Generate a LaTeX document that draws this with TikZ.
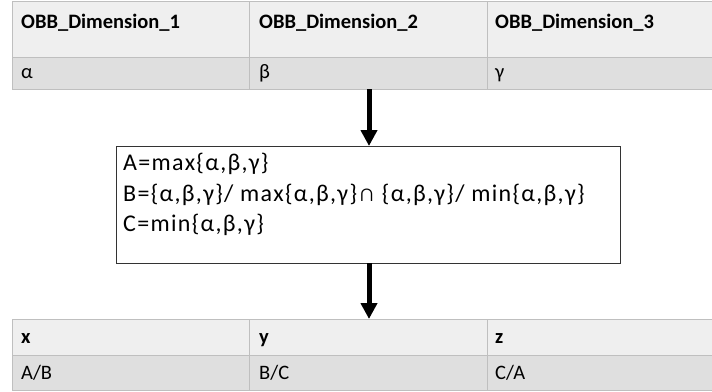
\documentclass[tikz,border=0pt]{standalone}
\usepackage{fontspec}
\setmainfont{Carlito}
\newfontfamily\rulefont[LetterSpace=5.5]{Carlito}
\usetikzlibrary{arrows.meta}
\definecolor{gridgray}{HTML}{BFBFBF}
\definecolor{headfill}{HTML}{EFEFEF}
\definecolor{datafill}{HTML}{DFDFDF}
\definecolor{boxline}{HTML}{333333}
\tikzset{
  cell/.style={draw=gridgray, line width=1pt, inner sep=0pt, anchor=north west},
  headcell/.style={cell, fill=headfill},
  datacell/.style={cell, fill=datafill},
  celltext/.style={inner sep=0pt, anchor=base west, font=\fontsize{20.5}{24}\selectfont},
  headtext/.style={celltext, font=\fontsize{20.5}{24}\selectfont\bfseries},
  ruletext/.style={inner sep=0pt, anchor=base west, font=\rulefont\fontsize{24}{30}\selectfont},
  flow/.style={line width=5pt, -{Triangle[width=16pt,length=16pt]}},
}
\begin{document}
\begin{tikzpicture}[x=1pt, y=-1pt]
\useasboundingbox (0,0) rectangle (712,391);

% input table: the three box dimensions
\node[headcell, minimum width=237pt, minimum height=56pt] (h1) at (12,1) {};
\node[headcell, minimum width=238pt, minimum height=56pt] (h2) at (249,1) {};
\node[headcell, minimum width=230pt, minimum height=56pt] (h3) at (487,1) {};
\node[datacell, minimum width=237pt, minimum height=32pt] (d1) at (12,57) {};
\node[datacell, minimum width=238pt, minimum height=32pt] (d2) at (249,57) {};
\node[datacell, minimum width=230pt, minimum height=32pt] (d3) at (487,57) {};
\node[headtext] (th1) at (21,28) {OBB\_Dimension\_1};
\node[headtext] (th2) at (259,28) {OBB\_Dimension\_2};
\node[headtext] (th3) at (495,28) {OBB\_Dimension\_3};
\node[celltext] (td1) at (21,78) {α};
\node[celltext] (td2) at (259,78) {β};
\node[celltext] (td3) at (495,78) {γ};

% ordering rules
\node[draw=boxline, line width=1pt, minimum width=504pt, minimum height=117pt,
      inner sep=0pt, anchor=north west] (rules) at (116,146) {};
\node[ruletext] (ruleA) at (123,170.5) {A=max\{α,β,γ\}};
\node[ruletext] (ruleB) at (123,201) {B=\{α,β,γ\}/ max\{α,β,γ\}∩ \{α,β,γ\}/ min\{α,β,γ\}};
\node[ruletext] (ruleC) at (123,231.5) {C=min\{α,β,γ\}};

% output table: the ratios
\node[headcell, minimum width=237pt, minimum height=36pt] (o1) at (12,319) {};
\node[headcell, minimum width=238pt, minimum height=36pt] (o2) at (249,319) {};
\node[headcell, minimum width=230pt, minimum height=36pt] (o3) at (487,319) {};
\node[datacell, minimum width=237pt, minimum height=35pt] (r1) at (12,355) {};
\node[datacell, minimum width=238pt, minimum height=35pt] (r2) at (249,355) {};
\node[datacell, minimum width=230pt, minimum height=35pt] (r3) at (487,355) {};
\node[headtext] (to1) at (21,343) {x};
\node[headtext] (to2) at (259,343) {y};
\node[headtext] (to3) at (495,343) {z};
\node[celltext] (tr1) at (21,379) {A/B};
\node[celltext] (tr2) at (259,379) {B/C};
\node[celltext] (tr3) at (495,379) {C/A};

% flow arrows
\coordinate (a1) at (369,89);
\coordinate (a2) at (369,263);
\draw[flow] (a1) -- (a1 |- rules.north);
\draw[flow] (a2) -- (a2 |- o2.north);
\end{tikzpicture}
\end{document}
